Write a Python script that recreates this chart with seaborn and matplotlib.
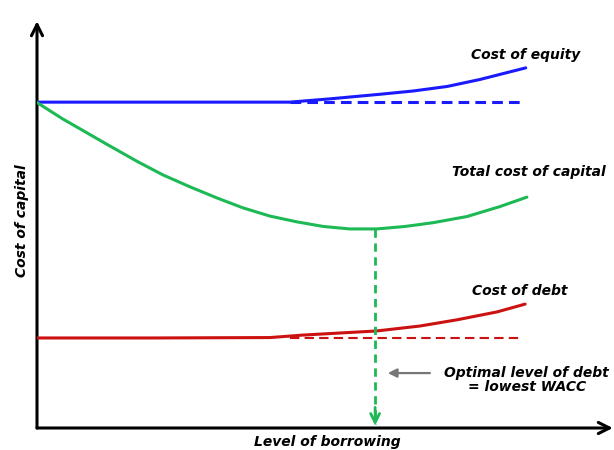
import matplotlib
matplotlib.use("Agg")
import matplotlib.pyplot as plt
from matplotlib.patches import FancyArrowPatch
import seaborn as sns
import pandas as pd

# -----------------------------
# DATA (x = level of borrowing, y = cost of capital, arbitrary units)
# -----------------------------
equity_x = [0.0, 2.0, 4.38, 5.08, 5.94, 6.52, 7.11, 7.68, 8.47]
equity_y = [7.89, 7.89, 7.89, 7.97, 8.08, 8.16, 8.27, 8.44, 8.72]

wacc_x = [0.0, 0.45, 0.75, 1.21, 1.73, 2.18, 2.65, 3.12, 3.57, 4.04, 4.51,
          4.96, 5.42, 5.89, 6.38, 6.86, 7.45, 8.02, 8.49]
wacc_y = [7.88, 7.48, 7.24, 6.87, 6.46, 6.13, 5.84, 5.57, 5.33, 5.13, 4.99,
          4.88, 4.82, 4.82, 4.88, 4.97, 5.12, 5.36, 5.59]

debt_x = [0.0, 2.0, 4.04, 4.61, 5.89, 6.64, 7.28, 7.97, 8.46]
debt_y = [2.18, 2.18, 2.19, 2.25, 2.35, 2.47, 2.62, 2.81, 3.00]

equity_flat_x = [4.38, 8.46]
debt_flat_x = [4.38, 8.42]
optimal_x = 5.86
optimal_y = 4.82

labels = {
    "equity": "Cost of equity",
    "wacc": "Total cost of capital",
    "debt": "Cost of debt",
}

BLUE = "#1a1aff"
GREEN = "#1db954"
RED = "#cc1111"

sns.set_theme(style="white")
plt.rcParams["font.family"] = ["DejaVu Sans"]

fig = plt.figure(figsize=(6.14, 4.5), dpi=100)
ax = fig.add_axes([37 / 614, 22 / 450, 577 / 614, 413 / 450])
ax.set_xlim(0, 10)
ax.set_ylim(0, 10)

df = pd.concat([
    pd.DataFrame({"x": equity_x, "y": equity_y, "s": "equity"}),
    pd.DataFrame({"x": wacc_x, "y": wacc_y, "s": "wacc"}),
    pd.DataFrame({"x": debt_x, "y": debt_y, "s": "debt"}),
])
sns.lineplot(data=df, x="x", y="y", hue="s", sort=False, estimator=None,
             palette={"equity": BLUE, "wacc": GREEN, "debt": RED},
             linewidth=2.2, legend=False, ax=ax)

# dashed flat continuations
ax.plot(equity_flat_x, [equity_y[0]] * 2, color=BLUE, lw=2.2,
        ls=(0, (3.5, 2)))
ax.plot(debt_flat_x, [debt_y[0]] * 2, color=RED, lw=1.5, ls=(0, (4.5, 2.5)))

# optimal point drop line with open arrow head
ax.plot([optimal_x, optimal_x], [optimal_y, 0.1], color=GREEN, lw=2.0,
        ls=(0, (3, 2)))
ax.add_patch(FancyArrowPatch((optimal_x, 0.5), (optimal_x, 0.06),
                             arrowstyle="->", color=GREEN, lw=2.0,
                             mutation_scale=16, shrinkA=0, shrinkB=0))

# axes drawn as arrows
for s in ax.spines.values():
    s.set_visible(False)
ax.set_xticks([])
ax.set_yticks([])
ax.set_xlabel("")
ax.set_ylabel("")
ax.add_patch(FancyArrowPatch((0, 0), (9.98, 0), arrowstyle="->", color="black",
                             lw=2.2, mutation_scale=20, shrinkA=0, shrinkB=0,
                             clip_on=False))
ax.add_patch(FancyArrowPatch((0, 0), (0, 9.85), arrowstyle="->", color="black",
                             lw=2.2, mutation_scale=20, shrinkA=0, shrinkB=0,
                             clip_on=False))

tstyle = dict(fontsize=10, fontweight="bold", fontstyle="italic",
              color="black")
ax.text(8.47, 9.03, labels["equity"], ha="center", va="center", **tstyle)
ax.text(8.53, 6.20, labels["wacc"], ha="center", va="center", **tstyle)
ax.text(8.37, 3.32, labels["debt"], ha="center", va="center", **tstyle)

# optimal level annotation
ax.add_patch(FancyArrowPatch((6.81, 1.33), (6.08, 1.33), arrowstyle="-|>",
                             color="#777777", lw=1.6, mutation_scale=13,
                             shrinkA=0, shrinkB=0))
ax.text(8.49, 1.16, "Optimal level of debt\n= lowest WACC", ha="center",
        va="center", linespacing=1.0, **tstyle)

ax.text(5.04, -0.34, "Level of borrowing", ha="center", va="center",
        clip_on=False, **tstyle)
ax.text(-0.26, 5.01, "Cost of capital", ha="center", va="center",
        rotation=90, clip_on=False, **tstyle)

fig.savefig("out.png", dpi=100)
